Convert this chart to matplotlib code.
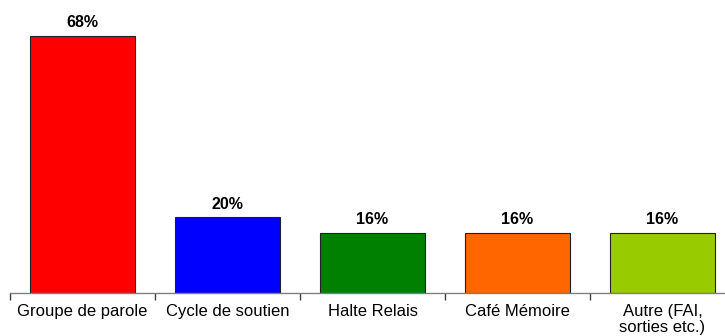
import matplotlib.pyplot as plt
import numpy as np

plt.rcParams['font.family'] = ['Liberation Sans', 'DejaVu Sans']

# ---------------- data ----------------
categories = ['Groupe de parole', 'Cycle de soutien', 'Halte Relais',
              'Café Mémoire', 'Autre (FAI,\nsorties etc.)']
values = [68, 20, 16, 16, 16]
colors = ['#FF0000', '#0000FF', '#008000', '#FF6600', '#99CC00']

# ---------------- figure layout ----------------
fig = plt.figure(figsize=(7.25, 3.36), dpi=100)
# plot area runs a little past the right edge of the figure
ax = fig.add_axes([10 / 725, 43 / 336, 725 / 725, 293 / 336])

x = np.arange(len(categories))
bars = ax.bar(x, values, width=0.72, color=colors, edgecolor='#202020', linewidth=0.8)

for xi, v in zip(x, values):
    ax.text(xi, v + 1.5, f'{v}%', ha='center', va='bottom', fontsize=11.5, fontweight='bold')

ax.set_xlim(-0.5, len(categories) - 0.5)
ax.set_ylim(0, 77.5)

for side in ['top', 'right', 'left']:
    ax.spines[side].set_visible(False)
ax.spines['bottom'].set_color('#808080')
ax.spines['bottom'].set_linewidth(1.0)
ax.set_yticks([])

ax.set_xticks(x)
ax.set_xticklabels(categories, fontsize=12, linespacing=1.05)
ax.tick_params(axis='x', which='major', length=0, pad=8)
ax.set_xticks(np.arange(len(categories)) - 0.5, minor=True)
ax.tick_params(axis='x', which='minor', length=5, width=1.0, color='#404040', direction='out')

fig.savefig('out.png', dpi=100)
